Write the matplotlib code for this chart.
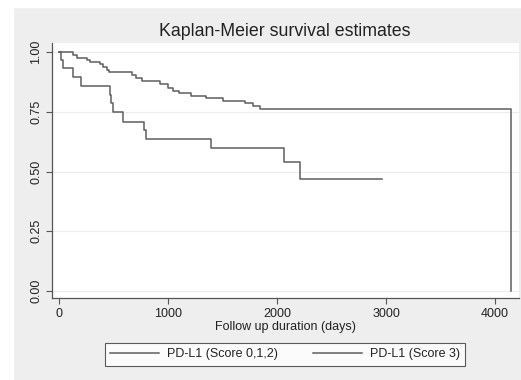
import matplotlib
matplotlib.use("Agg")
from matplotlib import pyplot as plt
from matplotlib.patches import Rectangle

plt.rcParams['font.family'] = ['Liberation Sans', 'DejaVu Sans']

# PD-L1 score 0,1,2
days_low = [0, 125, 162, 254, 284, 376, 407, 437, 462, 667, 706, 758, 927, 1003,
            1049, 1101, 1211, 1346, 1502, 1706, 1783, 1844, 4147]
surv_low = [1.0, 0.987, 0.976, 0.966, 0.959, 0.950, 0.938, 0.925, 0.918, 0.904,
            0.890, 0.879, 0.865, 0.851, 0.838, 0.827, 0.816, 0.806, 0.796, 0.785,
            0.774, 0.762, 0.0]

# PD-L1 score 3
days_high = [0, 15, 40, 125, 202, 468, 480, 495, 590, 780, 798, 1394, 2064, 2211, 2966]
surv_high = [1.0, 0.966, 0.932, 0.894, 0.858, 0.820, 0.787, 0.750, 0.708, 0.674,
             0.635, 0.597, 0.538, 0.469, 0.469]

labels = ["PD-L1 (Score 0,1,2)", "PD-L1 (Score 3)"]
yticks = [0, 0.25, 0.5, 0.75, 1.0]
xticks = [0, 1000, 2000, 3000, 4000]

bg = "#eeeeee"
line_col = "#5e5e5e"

fig = plt.figure(figsize=(5.21, 3.80), dpi=100, facecolor=bg)
fig.patches.append(Rectangle((0, 0), 13/521, 1, transform=fig.transFigure,
                             color="white", zorder=-1))
fig.patches.append(Rectangle((0, 1 - 7/380), 1, 7/380, transform=fig.transFigure,
                             color="white", zorder=-1))

ax = fig.add_axes([52/521, 1 - 298/380, 467/521, 255/380])
ax.set_facecolor("white")

l1, = ax.step(days_low, surv_low, where="post", color=line_col, lw=1.1)
l2, = ax.step(days_high, surv_high, where="post", color=line_col, lw=1.1)

ax.set_xlim(-64, 4220)
ax.set_ylim(-0.029, 1.038)
ax.set_yticks(yticks)
ax.set_yticklabels(["%.2f" % v for v in yticks], rotation=90, va="center")
ax.set_xticks(xticks)
for y in yticks:
    ax.axhline(y, color="#ececec", lw=0.8, zorder=0)

for s in ["top", "right"]:
    ax.spines[s].set_visible(False)
for s in ["left", "bottom"]:
    ax.spines[s].set_color("#555555")
    ax.spines[s].set_linewidth(0.9)
ax.tick_params(colors="#555555", labelcolor="#222222", labelsize=9,
               length=4, width=0.8, pad=3)

ax.set_xlabel("Follow up duration (days)", fontsize=9, color="#222222", labelpad=1)
fig.text(285/521, 1 - 32/380, "Kaplan-Meier survival estimates", ha="center",
         va="center", fontsize=12.8, color="#222222")

leg = fig.legend([l1, l2], labels, loc="center",
                 bbox_to_anchor=(285/521, 1 - 354.5/380), ncol=2, fontsize=9,
                 handlelength=3.9, handletextpad=0.65, columnspacing=2.8,
                 frameon=True, fancybox=False, borderpad=0.45)
leg.get_frame().set_edgecolor("#333333")
leg.get_frame().set_linewidth(0.8)
for t in leg.get_texts():
    t.set_color("#222222")

fig.savefig("out.png", dpi=100, facecolor=bg)
